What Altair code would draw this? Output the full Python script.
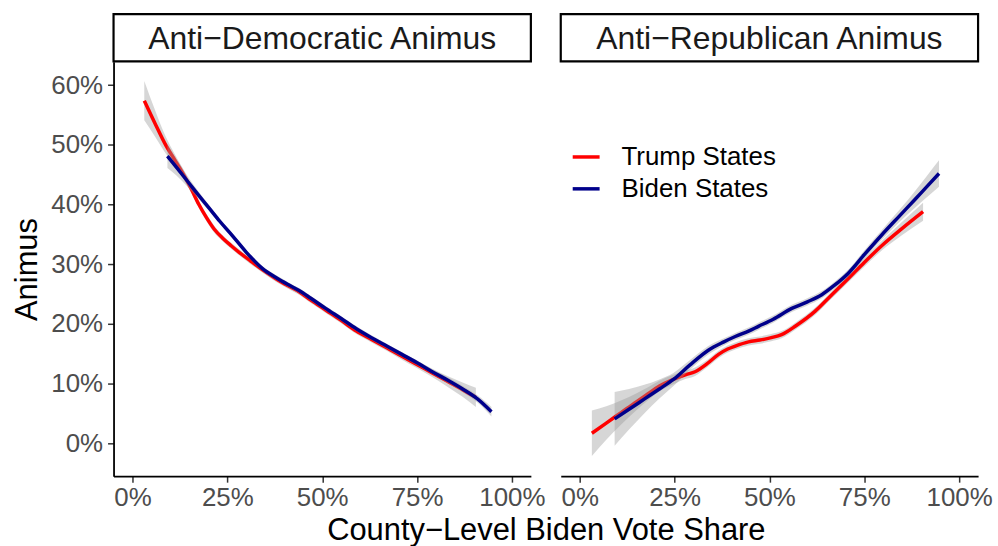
import altair as alt
import pandas as pd

FONT = "Liberation Sans"

PANELS = ["Anti−Democratic Animus", "Anti−Republican Animus"]
SERIES = ["Trump States", "Biden States"]
COLORS = ["#FF0000", "#00008B"]
X_TICKS = [0, 25, 50, 75, 100]
Y_TICKS = [0, 10, 20, 30, 40, 50, 60]
X_TITLE = "County−Level Biden Vote Share"
Y_TITLE = "Animus"

# Anti-Democratic animus, Trump states: vote share (%), smoothed animus (%), band half-width
DEM_TRUMP_X = [3.1, 6, 8.8, 11, 13.2, 15.5, 17.5, 19.5, 21.5, 23.7, 26, 28.1, 31, 34.2, 38,
               41, 43.9, 47, 51, 55, 59, 63, 67, 71, 74.7, 79, 83, 87, 90.5]
DEM_TRUMP_Y = [57.4, 53.5, 49.9, 47.6, 45.3, 42.6, 40.0, 37.8, 35.9, 34.4, 33.1, 32.0, 30.6, 29.1, 27.5,
               26.4, 25.4, 24.0, 22.3, 20.6, 18.8, 17.4, 16.0, 14.6, 13.3, 11.8, 10.4, 9.0, 7.7]
DEM_TRUMP_SE = [3.3, 2.2, 1.4, 1.0, 0.8, 0.7, 0.6, 0.6, 0.6, 0.5, 0.5, 0.5, 0.5, 0.5, 0.5,
                0.5, 0.5, 0.5, 0.5, 0.5, 0.5, 0.5, 0.5, 0.6, 0.6, 0.7, 0.9, 1.2, 1.6]

# Anti-Democratic animus, Biden states
DEM_BIDEN_X = [9.2, 11.5, 14.5, 17.5, 20.2, 23, 26.3, 30, 34.2, 38, 41, 43.9, 47, 50.9, 55,
               59, 63, 67, 71, 75, 79, 83, 87, 91, 94.6]
DEM_BIDEN_Y = [48.1, 46.3, 43.9, 41.5, 39.4, 37.2, 34.8, 32.0, 29.3, 27.7, 26.6, 25.6, 24.3, 22.6, 20.9,
               19.2, 17.7, 16.3, 14.9, 13.5, 12.0, 10.6, 9.1, 7.4, 5.3]
DEM_BIDEN_SE = [2.0, 1.4, 0.9, 0.6, 0.5, 0.4, 0.4, 0.4, 0.4, 0.4, 0.4, 0.4, 0.4, 0.4, 0.4,
                0.4, 0.4, 0.4, 0.4, 0.4, 0.4, 0.5, 0.5, 0.6, 0.8]

# Anti-Republican animus, Trump states
REP_TRUMP_X = [3.2, 7, 11, 15, 18, 21, 24.7, 28, 30.4, 33.5, 36.6, 39, 41, 44.5, 47.5,
               50.5, 53.2, 57, 62, 66, 70.8, 75, 79.6, 85, 90.5]
REP_TRUMP_Y = [1.7, 3.4, 5.2, 7.0, 8.3, 9.6, 10.7, 11.5, 12.0, 13.3, 14.9, 15.8, 16.3, 17.0, 17.3,
               17.7, 18.2, 19.7, 22.1, 24.6, 27.6, 30.3, 33.1, 36.0, 38.8]
REP_TRUMP_SE = [3.8, 2.8, 2.0, 1.4, 1.1, 0.9, 0.8, 0.7, 0.7, 0.6, 0.6, 0.6, 0.6, 0.6, 0.6,
                0.6, 0.6, 0.6, 0.6, 0.6, 0.6, 0.7, 0.8, 1.1, 1.5]

# Anti-Republican animus, Biden states
REP_BIDEN_X = [9.2, 13, 17, 21, 24.7, 29, 33.9, 38, 41, 44.5, 47.1, 51, 55.9, 60, 63.8,
               67, 70.8, 75, 79.6, 84, 88.3, 91.5, 94.7]
REP_BIDEN_Y = [4.1, 5.7, 7.4, 9.1, 10.7, 13.1, 15.6, 17.0, 17.9, 18.8, 19.6, 20.8, 22.6, 23.7, 24.9,
               26.4, 28.5, 31.6, 34.9, 37.9, 40.8, 43.0, 45.2]
REP_BIDEN_SE = [4.5, 3.4, 2.4, 1.6, 1.1, 0.8, 0.7, 0.6, 0.6, 0.6, 0.6, 0.6, 0.6, 0.6, 0.6,
                0.6, 0.6, 0.7, 0.8, 1.0, 1.4, 1.8, 2.2]

PANEL_W = 419
PANEL_H = 416
STRIP_H = 47.5


def series_frame(xs, ys, ses, name):
    return pd.DataFrame({
        "x": xs,
        "y": ys,
        "lo": [v - s for v, s in zip(ys, ses)],
        "hi": [v + s for v, s in zip(ys, ses)],
        "series": name,
    })


frames = [
    pd.concat([series_frame(DEM_TRUMP_X, DEM_TRUMP_Y, DEM_TRUMP_SE, SERIES[0]),
               series_frame(DEM_BIDEN_X, DEM_BIDEN_Y, DEM_BIDEN_SE, SERIES[1])]),
    pd.concat([series_frame(REP_TRUMP_X, REP_TRUMP_Y, REP_TRUMP_SE, SERIES[0]),
               series_frame(REP_BIDEN_X, REP_BIDEN_Y, REP_BIDEN_SE, SERIES[1])]),
]

x_scale = alt.Scale(domain=[-5, 105], nice=False, zero=False)
y_scale = alt.Scale(domain=[-5.5, 63.9], nice=False, zero=False)
color_scale = alt.Scale(domain=SERIES, range=COLORS)


def panel(frame, first):
    if first:
        x_axis = alt.Axis(
            values=X_TICKS, labelExpr="datum.value + '%'", labelPadding=2, title=X_TITLE,
            titleX=434, titleY=64, titleAlign="center", titleBaseline="alphabetic",
        )
        y_axis = alt.Axis(
            values=Y_TICKS, labelExpr="datum.value + '%'", labelPadding=5, title=Y_TITLE,
            titleX=-77, titleY=PANEL_H / 2, titleAngle=-90, titleAlign="center",
            titleBaseline="alphabetic",
        )
    else:
        x_axis = alt.Axis(values=X_TICKS, labelExpr="datum.value + '%'", labelPadding=2, title=None)
        y_axis = None

    base = alt.Chart(frame)
    layers = []
    for name in SERIES:
        sub = base.transform_filter(alt.datum.series == name)
        layers.append(sub.mark_area(color="#999999", opacity=0.4, interpolate="monotone").encode(
            x=alt.X("x:Q", scale=x_scale, axis=x_axis),
            y=alt.Y("lo:Q", scale=y_scale, axis=y_axis),
            y2="hi:Q",
        ))
        layers.append(sub.mark_line(strokeWidth=3.5, strokeCap="butt", interpolate="monotone").encode(
            x=alt.X("x:Q", scale=x_scale, axis=x_axis),
            y=alt.Y("y:Q", scale=y_scale, axis=y_axis),
            color=alt.Color("series:N", scale=color_scale, sort=SERIES, title=None),
        ))
    return alt.layer(*layers).properties(width=PANEL_W, height=PANEL_H)


def strip(label):
    return alt.Chart(pd.DataFrame({"label": [label]})).mark_text(
        font=FONT, fontSize=32, color="#1A1A1A", baseline="middle", dy=1,
    ).encode(text="label:N").properties(
        width=PANEL_W, height=STRIP_H,
        view=alt.ViewBackground(stroke="black", strokeWidth=2.2, fill="white"),
    )


chart = alt.concat(
    strip(PANELS[0]), strip(PANELS[1]),
    panel(frames[0], True), panel(frames[1], False),
    columns=2, spacing={"row": 0, "column": 30}, bounds="flush",
).properties(
    padding={"left": 12, "top": 11, "right": 5, "bottom": 0},
    background="white",
).configure_view(stroke=None).configure_axis(
    grid=False,
    labelFont=FONT, labelFontSize=26, labelColor="#4D4D4D",
    tickColor="#333333", tickSize=6, tickWidth=1.5,
    domainColor="black", domainWidth=1.8,
    titleFont=FONT, titleFontSize=31, titleColor="black", titleFontWeight="normal",
).configure_legend(
    orient="none", legendX=459, legendY=128,
    symbolType="stroke", symbolSize=729, symbolStrokeWidth=3.5,
    labelFont=FONT, labelFontSize=26, labelColor="black",
    rowPadding=3, labelOffset=20,
)

chart.save("out.html", embed_options={"renderer": "svg", "actions": False})
